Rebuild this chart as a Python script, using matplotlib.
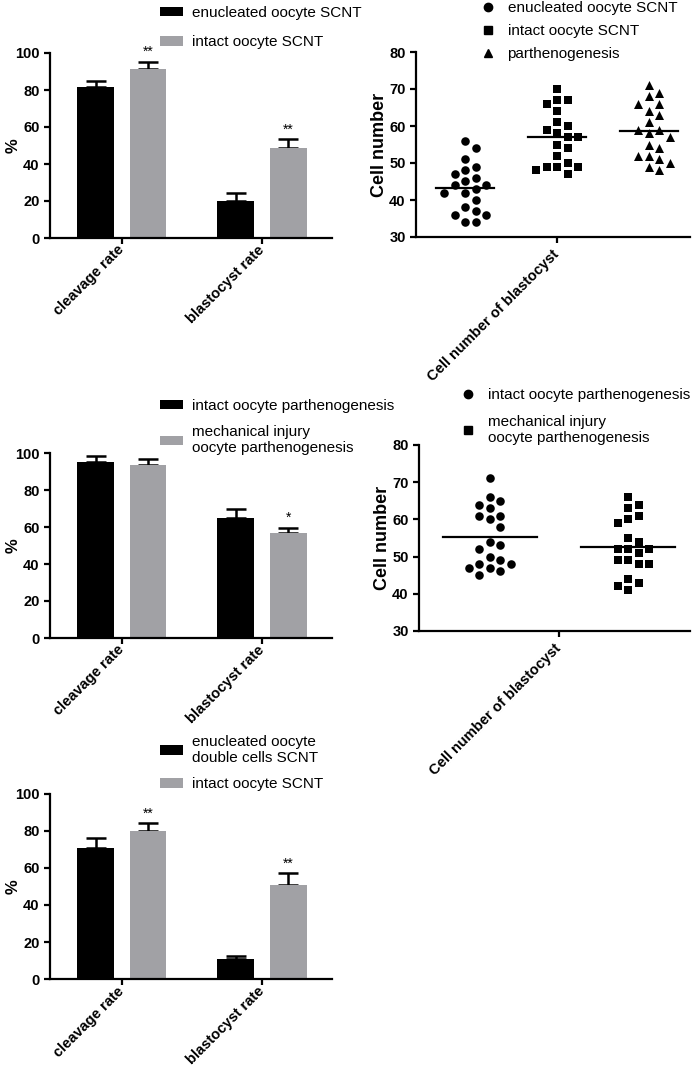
import numpy as np
import matplotlib
matplotlib.use("Agg")
import matplotlib.pyplot as plt
from matplotlib.patches import Patch
from matplotlib.lines import Line2D

plt.rcParams['font.family'] = ['Liberation Sans', 'DejaVu Sans']

# ---------------- data ----------------
categories = ["cleavage rate", "blastocyst rate"]

# panel A
a_labels = ["enucleated oocyte SCNT", "intact oocyte SCNT"]
a_black = [81.5, 20.2]
a_black_err = [3.5, 3.9]
a_gray = [91.4, 48.5]
a_gray_err = [3.9, 4.8]
a_sig = ["**", "**"]

# panel C
c_labels = ["intact oocyte parthenogenesis", "mechanical injury\noocyte parthenogenesis"]
c_black = [95.3, 64.7]
c_black_err = [3.1, 4.9]
c_gray = [93.5, 56.6]
c_gray_err = [3.1, 3.0]
c_sig = ["", "*"]

# panel E
e_labels = ["enucleated oocyte\ndouble cells SCNT", "intact oocyte SCNT"]
e_black = [70.9, 10.8]
e_black_err = [5.4, 1.7]
e_gray = [80.0, 50.8]
e_gray_err = [4.0, 6.3]
e_sig = ["**", "**"]

# panel B (cell numbers)
b_labels = ["enucleated oocyte SCNT", "intact oocyte SCNT", "parthenogenesis"]
b_enucleated = [56, 54, 51, 49, 48, 47, 46, 45, 44, 44, 43, 42, 42, 40, 37, 38, 36, 36, 34, 34]
b_intact = [70, 67, 66, 67, 64, 61, 60, 59, 58, 57, 57, 55, 54, 52, 49, 49, 49, 50, 48, 47]
b_parth = [71, 68, 69, 66, 66, 63, 64, 61, 59, 59, 58, 57, 55, 54, 52, 52, 50, 51, 49, 48]

# panel D (cell numbers)
d_labels = ["intact oocyte parthenogenesis", "mechanical injury\noocyte parthenogenesis"]
d_intact = [71, 65, 66, 63, 64, 61, 60, 61, 58, 54, 53, 52, 50, 49, 48, 48, 47, 47, 46, 45]
d_injury = [66, 63, 64, 60, 61, 59, 55, 54, 52, 52, 52, 51, 49, 48, 48, 49, 44, 43, 42, 41]

scatter_xlabel = "Cell number of blastocyst"

# ---------------- style ----------------
BLACK = "#000000"
GRAY = "#a1a1a5"
W, H = 700, 1065
fig = plt.figure(figsize=(W / 100, H / 100), dpi=100)


def px_axes(left, top, right, bottom):
    return fig.add_axes([left / W, 1 - bottom / H, (right - left) / W, (bottom - top) / H])


def style_axes(ax):
    for s in ["top", "right"]:
        ax.spines[s].set_visible(False)
    for s in ["left", "bottom"]:
        ax.spines[s].set_linewidth(1.6)
    ax.tick_params(axis="both", direction="out", width=1.6, length=4,
                   labelsize=10.5)
    for lab in ax.get_yticklabels():
        lab.set_fontweight("bold")


def bar_panel(ax, black, black_err, gray, gray_err, sig, labels, leg_xy):
    x = np.arange(len(categories))
    off, w = 0.186, 0.264
    ax.bar(x - off, black, w, color=BLACK, zorder=2)
    ax.bar(x + off, gray, w, color=GRAY, zorder=2)
    ax.errorbar(x - off, black, yerr=[np.zeros(len(x)), black_err], fmt="none",
                ecolor=BLACK, elinewidth=1.8, capsize=7.5, capthick=1.8, zorder=1)
    ax.errorbar(x + off, gray, yerr=[np.zeros(len(x)), gray_err], fmt="none",
                ecolor=BLACK, elinewidth=1.8, capsize=7.5, capthick=1.8, zorder=1)
    for xi, v, e, s in zip(x + off, gray, gray_err, sig):
        if s:
            ax.annotate(s, (xi, v + e), xytext=(0, 2), textcoords="offset points",
                        ha="center", va="bottom", fontsize=10, annotation_clip=False)
    ax.set_xlim(-0.514, 1.5)
    ax.set_ylim(0, 100)
    ax.set_yticks(np.arange(0, 101, 20))
    ax.set_xticks(x)
    ax.set_xticklabels(categories, rotation=45, ha="right", va="center",
                       rotation_mode="anchor", fontweight="bold", fontsize=8.0)
    style_axes(ax)
    ax.tick_params(axis="x", pad=3)
    ax.set_ylabel("%", fontweight="bold", fontsize=12)
    ax.yaxis.set_label_coords(-0.105, 0.5)
    handles = [Patch(facecolor=BLACK), Patch(facecolor=GRAY)]
    ax.legend(handles, labels, loc="upper left", bbox_to_anchor=(leg_xy[0] / W, 1 - leg_xy[1] / H),
              bbox_transform=fig.transFigure, frameon=False, fontsize=11,
              borderpad=0, borderaxespad=0, handlelength=1.5, handleheight=0.6,
              handletextpad=0.6, labelspacing=leg_xy[2])


def swarm_offsets(ax, values, center, diam=10.5):
    to_px = ax.transData.transform
    ppx = to_px((1, 0))[0] - to_px((0, 0))[0]
    ys = np.array([to_px((center, v))[1] for v in values])
    order = np.argsort(ys)[::-1]
    placed = []
    offs = np.zeros(len(values))
    step = diam / 2.0
    cands = [0.0]
    for k in range(1, 20):
        cands += [k * step, -k * step]
    for i in order:
        for c in cands:
            ok = all((c - px) ** 2 + (ys[i] - py) ** 2 >= diam ** 2 for px, py in placed)
            if ok:
                placed.append((c, ys[i]))
                offs[i] = c / ppx
                break
    return offs


def scatter_panel(ax, groups, markers, labels, xlim, tick_x, half, leg_xy, leg_spacing, ylab_x):
    ax.set_xlim(*xlim)
    ax.set_ylim(30, 80)
    ax.set_yticks(np.arange(30, 81, 10))
    ax.set_xticks([tick_x])
    ax.set_xticklabels([scatter_xlabel], rotation=45, ha="right", va="center",
                       rotation_mode="anchor", fontweight="bold", fontsize=9)
    style_axes(ax)
    ax.tick_params(axis="x", pad=7)
    ax.set_ylabel("Cell number", fontweight="bold", fontsize=13)
    ax.yaxis.set_label_coords(ylab_x, 0.5)
    handles = []
    for gi, (vals, m) in enumerate(zip(groups, markers)):
        offs = swarm_offsets(ax, vals, gi)
        ms = 38 if m != "^" else 42
        ax.scatter(gi + offs, vals, marker=m, s=ms, color=BLACK, linewidths=0, zorder=3)
        mean = np.mean(vals)
        ax.plot([gi - half, gi + half], [mean, mean], color=BLACK, lw=1.6, zorder=2)
        handles.append(Line2D([], [], marker=m, linestyle="none", color=BLACK, markersize=6))
    ax.legend(handles, labels, loc="upper left", bbox_to_anchor=(leg_xy[0] / W, 1 - leg_xy[1] / H),
              bbox_transform=fig.transFigure, frameon=False, fontsize=11,
              borderpad=0, borderaxespad=0, handlelength=1.0, handletextpad=0.8,
              labelspacing=leg_spacing)


axA = px_axes(50, 53, 332, 238)
bar_panel(axA, a_black, a_black_err, a_gray, a_gray_err, a_sig, a_labels, (160, 6, 1.0))

axC = px_axes(50, 453, 332, 638)
bar_panel(axC, c_black, c_black_err, c_gray, c_gray_err, c_sig, c_labels, (160, 399, 0.8))

axE = px_axes(50, 793.5, 332, 979.3)
bar_panel(axE, e_black, e_black_err, e_gray, e_gray_err, e_sig, e_labels, (160, 735, 0.8))

axB = px_axes(416, 52, 690, 237)
scatter_panel(axB, [b_enucleated, b_intact, b_parth], ["o", "s", "^"], b_labels,
              (-0.533, 2.446), 1, 0.32, (480, 1), 0.6, -0.102)

axD = px_axes(419, 445, 690, 631)
scatter_panel(axD, [d_intact, d_injury], ["o", "s"], d_labels,
              (-0.514, 1.449), 0.5, 0.34, (460, 388), 0.85, -0.104)

fig.savefig("out.png", dpi=100)
